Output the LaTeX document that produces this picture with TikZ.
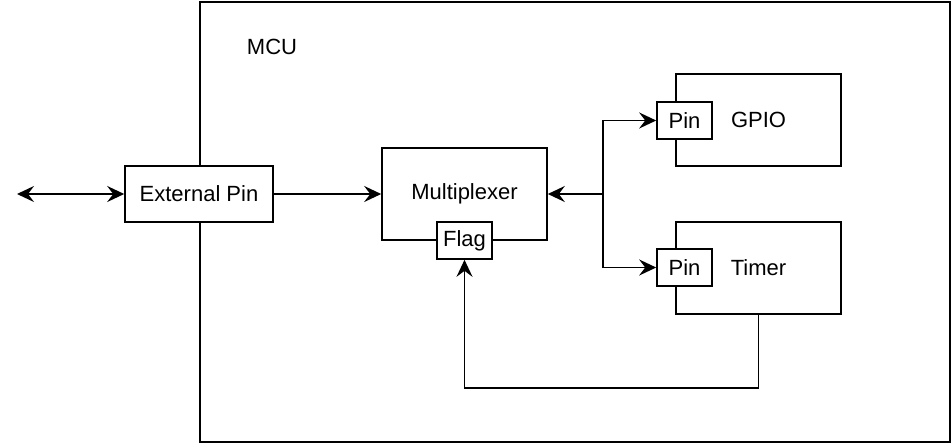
\documentclass[tikz,border=0pt]{standalone}
\usepackage{fontspec}
\setmainfont{Liberation Sans}
\usepackage{tikz}
\usetikzlibrary{arrows.meta, positioning, calc}

\begin{document}
\begin{tikzpicture}[x=1pt, y=-1pt, line width=1.6pt,
		font=\fontsize{22}{26}\selectfont,
		bloc/.style={draw, minimum width=165pt, minimum height=92pt, inner sep=0pt},
		petit/.style={draw, fill=white, minimum width=55pt, minimum height=37pt, inner sep=0pt},
		fleche/.style={-{Stealth[length=17pt, width=16pt, inset=6pt]}}]
	\useasboundingbox (0,0) rectangle (952,444);
	% MCU et ses blocs
	\node[draw, minimum width=750pt, minimum height=440pt] (mcu) at (575,222) {};
	\node (mculbl) at (272,47) {MCU};
	\node[draw, fill=white, minimum width=148pt, minimum height=56pt, inner sep=0pt] (ext) at (199,194) {External Pin};
	\node[bloc] (mux) at (464.5,194) {Multiplexer};
	\node[petit] (flag) at (464.5,240.5) {Flag};
	\node[bloc] (gpio) at (758.5,120) {GPIO};
	\node[petit] (gpiopin) at (684.5,120.5) {Pin};
	\node[bloc] (timer) at (758.5,268) {Timer};
	\node[petit] (timerpin) at (684.5,267.5) {Pin};
	% liaisons
	\coordinate (io) at (17,194);
	\coordinate (split) at (603,194);
	\draw[{Stealth[length=17pt, width=16pt, inset=6pt]}-{Stealth[length=17pt, width=16pt, inset=6pt]}] (io) -- (ext);
	\draw[fleche] (ext) -- (mux);
	\draw[fleche] (split) -- (mux);
	\draw[fleche] (split) |- (gpiopin);
	\draw[fleche] (split) |- (timerpin);
	\draw[fleche] (timer.south) -- ++(0,73) -| (flag.south);
\end{tikzpicture}
\end{document}
